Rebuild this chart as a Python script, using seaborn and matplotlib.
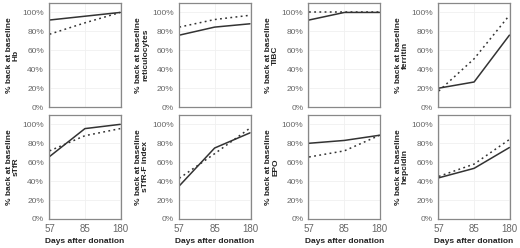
import pandas as pd
import seaborn as sns
import matplotlib.pyplot as plt
from matplotlib.ticker import PercentFormatter

days = ["57", "85", "180"]
markers = ["Hb", "reticulocytes", "TIBC", "ferritin",
           "sTfR", "sTfR-F index", "EPO", "hepcidin"]

# % back at baseline (solid line / dotted line)
solid = {
    "Hb": [92, 96, 100],
    "reticulocytes": [76, 84.5, 88],
    "TIBC": [92, 100, 100],
    "ferritin": [20, 26.5, 76],
    "sTfR": [66, 95.5, 100],
    "sTfR-F index": [35, 75, 91],
    "EPO": [80, 83, 88.5],
    "hepcidin": [43.5, 53.5, 75.5],
}
dotted = {
    "Hb": [77, 89, 100],
    "reticulocytes": [84.5, 92.5, 97],
    "TIBC": [100, 100, 100],
    "ferritin": [17, 51, 97],
    "sTfR": [72, 88, 95.5],
    "sTfR-F index": [43, 69, 96],
    "EPO": [65.5, 72, 88.5],
    "hepcidin": [45, 58, 84],
}
groups = ["Group 1", "Group 2"]

rows = []
for m in markers:
    for g, src in zip(groups, [solid, dotted]):
        for d, v in zip(days, src[m]):
            rows.append({"marker": m, "group": g, "day": d, "pct": v})
df = pd.DataFrame(rows)

sns.set_style("whitegrid")
plt.rcParams["font.family"] = ["Liberation Sans", "DejaVu Sans"]

fig, axes = plt.subplots(2, 4, figsize=(5.2, 2.48), dpi=100)
fig.subplots_adjust(left=0.094, right=0.981, bottom=0.117, top=0.988,
                    wspace=0.80, hspace=0.075)

for ax, m in zip(axes.flat, markers):
    sub = df[df["marker"] == m]
    sns.lineplot(data=sub, x="day", y="pct", style="group", ax=ax,
                 color="#333333", sort=False, legend=False,
                 dashes={"Group 1": "", "Group 2": (1.2, 2.2)}, linewidth=1.1)
    ax.set_ylim(0, 110)
    ax.set_xlim(-0.02, 2.02)
    ax.set_yticks([0, 20, 40, 60, 80, 100])
    ax.yaxis.set_major_formatter(PercentFormatter(decimals=0))
    ax.grid(True, color="#f0f0f0", linewidth=0.6)
    for s in ax.spines.values():
        s.set_color("#888888")
        s.set_linewidth(0.9)
    ax.tick_params(axis="both", length=2.5, width=0.8, color="#888888",
                   pad=1, labelcolor="#666666")
    ax.tick_params(axis="y", labelsize=6)
    ax.tick_params(axis="x", labelsize=7)
    ax.set_ylabel("% back at baseline\n" + m, fontsize=6, fontweight="bold",
                  color="#222222", labelpad=2, linespacing=1.0)
    if m in markers[:4]:
        ax.set_xticklabels([])
        ax.set_xlabel("")
    else:
        ax.set_xlabel("Days after donation", fontsize=6, fontweight="bold",
                      color="#222222", labelpad=3)

fig.savefig("out.png", dpi=100)
plt.close()
